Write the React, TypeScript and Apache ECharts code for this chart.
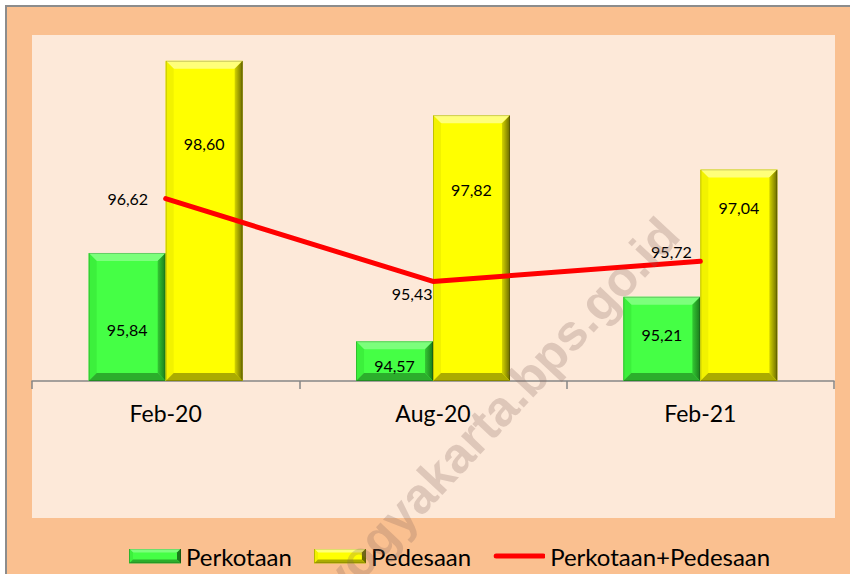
import React, { useEffect, useRef } from "react";
import * as echarts from "echarts";

// ---- data ----
const CATEGORIES = ["Feb-20", "Aug-20", "Feb-21"];
const SERIES_NAMES = ["Perkotaan", "Pedesaan", "Perkotaan+Pedesaan"];
const PERKOTAAN = [95.84, 94.57, 95.21];
const PEDESAAN = [98.6, 97.82, 97.04];
const GABUNGAN = [96.62, 95.43, 95.72];
const Y_MIN = 94;
const Y_MAX = 99;
const WATERMARK = "https://yogyakarta.bps.go.id";

// ---- styles ----
const FONT = "Lato, 'Noto Sans', sans-serif";
const GREEN = { main: "#45FF45", top: "#7CFF7C", left: "#3CF03C", rOut: "#1B7A1B", rIn: "#33C833", bottom: "#2CAE2C" };
const YELLOW = { main: "#FFFF00", top: "#FFFF7A", left: "#F2F200", rOut: "#6A6A00", rIn: "#D4D400", bottom: "#ABAB00" };
const BAR_LABEL_DY = [
  [77, 24, 38],
  [83, 74, 38],
];
const LINE_LABEL_OFFSET = [
  [-11, 0],
  [6, 12],
  [-2, -10],
];

const fmt = (v: number) => v.toFixed(2).replace(".", ",");

function bevelIcon(c: any) {
  const w = 52, h = 15, b = 4;
  const svg =
    `<svg xmlns="http://www.w3.org/2000/svg" width="${w}" height="${h}" viewBox="0 0 ${w} ${h}">` +
    `<rect width="${w}" height="${h}" fill="${c.main}"/>` +
    `<polygon points="0,0 ${w},0 ${w - b},${b} ${b},${b}" fill="${c.top}"/>` +
    `<polygon points="0,0 ${b},${b} ${b},${h - b} 0,${h}" fill="${c.left}"/>` +
    `<polygon points="${w},0 ${w},${h} ${w - b},${h - b} ${w - b},${b}" fill="${c.rOut}"/>` +
    `<polygon points="0,${h} ${b},${h - b} ${w - b},${h - b} ${w},${h}" fill="${c.bottom}"/>` +
    `<rect x="0.5" y="0.5" width="${w - 1}" height="${h - 1}" fill="none" stroke="rgba(0,0,0,0.25)"/>` +
    `</svg>`;
  return "image://data:image/svg+xml;charset=utf-8," + encodeURIComponent(svg);
}

function lineIcon() {
  const svg =
    `<svg xmlns="http://www.w3.org/2000/svg" width="52" height="15" viewBox="0 0 52 15">` +
    `<line x1="3" y1="7.5" x2="50" y2="7.5" stroke="#FF0000" stroke-width="5" stroke-linecap="round"/></svg>`;
  return "image://data:image/svg+xml;charset=utf-8," + encodeURIComponent(svg);
}

function makeBarRenderer(side: number, c: any, dys: number[]) {
  return (params: any, api: any) => {
    const idx = api.value(0);
    const v = api.value(1);
    const top = api.coord([idx, v]);
    const base = api.coord([idx, Y_MIN]);
    const band = api.size([1, 0])[0];
    const w = band * 0.288;
    const x0 = side < 0 ? top[0] - w : top[0];
    const y0 = top[1];
    const h = base[1] - top[1];
    const b = Math.min(8, h / 2, w / 2);
    return {
      type: "group",
      children: [
        { type: "rect", shape: { x: x0, y: y0, width: w, height: h }, style: { fill: c.main } },
        {
          type: "polygon",
          shape: { points: [[x0, y0], [x0 + w, y0], [x0 + w - b, y0 + b], [x0 + b, y0 + b]] },
          style: { fill: c.top },
        },
        {
          type: "polygon",
          shape: { points: [[x0, y0], [x0 + b, y0 + b], [x0 + b, y0 + h - b], [x0, y0 + h]] },
          style: { fill: c.left },
        },
        {
          type: "polygon",
          shape: { points: [[x0 + w, y0], [x0 + w, y0 + h], [x0 + w - b, y0 + h - b], [x0 + w - b, y0 + b]] },
          style: {
            fill: {
              type: "linear", x: 1, y: 0, x2: 0, y2: 0,
              colorStops: [{ offset: 0, color: c.rOut }, { offset: 1, color: c.rIn }],
            },
          },
        },
        {
          type: "polygon",
          shape: { points: [[x0, y0 + h], [x0 + b, y0 + h - b], [x0 + w - b, y0 + h - b], [x0 + w, y0 + h]] },
          style: { fill: c.bottom },
        },
        {
          type: "rect",
          shape: { x: x0 + 0.5, y: y0 + 0.5, width: w - 1, height: h - 1 },
          style: { fill: "none", stroke: "rgba(0,0,0,0.2)", lineWidth: 1 },
        },
        {
          type: "text",
          x: x0 + w / 2,
          y: y0 + dys[params.dataIndex],
          style: {
            text: fmt(v),
            fill: "#000",
            fontSize: 16,
            fontFamily: FONT,
            textAlign: "center",
            textVerticalAlign: "middle",
          },
        },
      ],
    };
  };
}

export default function App() {
  const ref = useRef<HTMLDivElement>(null);
  useEffect(() => {
    if (!ref.current) return;
    const chart = echarts.init(ref.current, undefined, { renderer: "svg" });
    const option: any = {
      animation: false,
      backgroundColor: "#FFFFFF",
      textStyle: { fontFamily: FONT },
      graphic: {
        elements: [
          {
            type: "rect",
            z: -100,
            shape: { x: 6, y: 6, width: 900, height: 620 },
            style: { fill: "#FAC090", stroke: "#8C8C8C", lineWidth: 2 },
          },
          {
            type: "rect",
            z: -99,
            shape: { x: 32, y: 35, width: 803, height: 483 },
            style: { fill: "#FDE9D9" },
          },
          {
            type: "text",
            z: 100,
            x: 670,
            y: 226,
            rotation: (47 * Math.PI) / 180,
            style: {
              text: WATERMARK,
              fill: "rgba(130,100,90,0.25)",
              fontSize: 50,
              fontWeight: "bold",
              fontFamily: "'Liberation Sans', Arial, sans-serif",
              textAlign: "right",
              textVerticalAlign: "middle",
            },
          },
        ],
      },
      grid: { left: 32, right: 16, top: 33, bottom: 193, containLabel: false },
      legend: {
        left: 129,
        top: 544,
        padding: 0,
        itemGap: 22,
        itemWidth: 52,
        itemHeight: 15,
        selectedMode: false,
        textStyle: { fontSize: 24, color: "#000", fontFamily: FONT },
        data: [
          { name: SERIES_NAMES[0], icon: bevelIcon(GREEN) },
          { name: SERIES_NAMES[1], icon: bevelIcon(YELLOW) },
          { name: SERIES_NAMES[2], icon: lineIcon() },
        ],
      },
      xAxis: {
        type: "category",
        data: CATEGORIES,
        boundaryGap: true,
        axisLine: { lineStyle: { color: "#868686", width: 1.5 } },
        axisTick: { show: true, length: 8, lineStyle: { color: "#868686", width: 1.5 } },
        axisLabel: { fontSize: 23, color: "#000", margin: 20, fontFamily: FONT },
        splitLine: { show: false },
      },
      yAxis: {
        type: "value",
        min: Y_MIN,
        max: Y_MAX,
        show: false,
        splitLine: { show: false },
      },
      series: [
        {
          name: SERIES_NAMES[0],
          type: "custom",
          z: 2,
          itemStyle: { color: GREEN.main },
          encode: { x: 0, y: 1 },
          data: PERKOTAAN.map((v, i) => [i, v]),
          renderItem: makeBarRenderer(-1, GREEN, BAR_LABEL_DY[0]),
        },
        {
          name: SERIES_NAMES[1],
          type: "custom",
          z: 2,
          itemStyle: { color: YELLOW.main },
          encode: { x: 0, y: 1 },
          data: PEDESAAN.map((v, i) => [i, v]),
          renderItem: makeBarRenderer(1, YELLOW, BAR_LABEL_DY[1]),
        },
        {
          name: SERIES_NAMES[2],
          type: "line",
          z: 5,
          data: GABUNGAN.map((v, i) => ({
            value: v,
            label: { offset: LINE_LABEL_OFFSET[i] },
          })),
          symbol: "circle",
          symbolSize: 3,
          itemStyle: { color: "#FF0000" },
          lineStyle: { color: "#FF0000", width: 5, cap: "round" },
          label: {
            show: true,
            position: "left",
            distance: 5,
            color: "#000",
            fontSize: 16,
            fontFamily: FONT,
            formatter: (p: any) => fmt(p.value),
          },
        },
      ],
    };
    chart.setOption(option);
    return () => chart.dispose();
  }, []);
  return (
    <div
      ref={ref}
      style={{ position: "fixed", left: 0, top: 0, width: 850, height: 574 }}
    />
  );
}
